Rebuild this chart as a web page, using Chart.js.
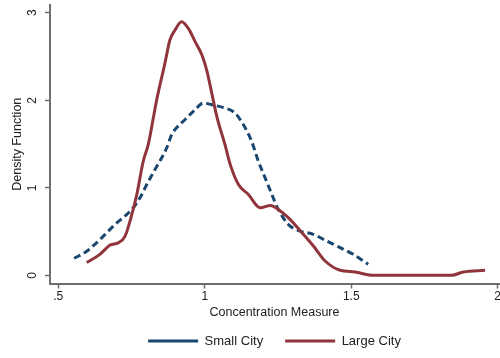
<!DOCTYPE html>
<html lang="en">
<head>
    <meta charset="UTF-8">
    <title>Density Function</title>
    <script src="https://cdn.jsdelivr.net/npm/chart.js"></script>
    <style>
        body { margin: 0; background: #ffffff; }
        .graph { width: 500px; height: 358px; }
    </style>
</head>
<body>
<div class="graph">
    <canvas id="myChart"></canvas>
</div>
<script>
    // Small City (dashed)
    const smallX = [0.554, 0.591, 0.625, 0.654, 0.694, 0.734, 0.756, 0.779, 0.802, 0.830, 0.870, 0.887, 0.898, 0.932, 0.967, 0.995, 1.024, 1.069, 1.103, 1.132, 1.160, 1.183, 1.206, 1.229, 1.251, 1.285, 1.325, 1.371, 1.416, 1.462, 1.507, 1.558];
    const smallY = [0.197, 0.262, 0.356, 0.450, 0.584, 0.697, 0.774, 0.887, 1.039, 1.209, 1.456, 1.608, 1.664, 1.778, 1.892, 1.968, 1.949, 1.911, 1.855, 1.721, 1.532, 1.304, 1.115, 0.925, 0.754, 0.584, 0.508, 0.470, 0.394, 0.319, 0.242, 0.129];

    // Large City (solid)
    const largeX = [0.597, 0.642, 0.677, 0.705, 0.728, 0.751, 0.768, 0.790, 0.807, 0.836, 0.864, 0.881, 0.898, 0.921, 0.944, 0.967, 0.990, 1.007, 1.024, 1.041, 1.069, 1.087, 1.115, 1.149, 1.189, 1.224, 1.251, 1.285, 1.325, 1.371, 1.411, 1.462, 1.513, 1.570, 1.700, 1.843, 1.883, 1.957];
    const largeY = [0.148, 0.242, 0.348, 0.375, 0.450, 0.697, 0.925, 1.304, 1.494, 2.006, 2.423, 2.688, 2.800, 2.897, 2.820, 2.670, 2.520, 2.340, 2.080, 1.816, 1.494, 1.266, 1.039, 0.925, 0.774, 0.800, 0.754, 0.660, 0.515, 0.337, 0.166, 0.060, 0.041, 0.003, 0.003, 0.003, 0.041, 0.060];

    const xTicks = [0.5, 1, 1.5, 2];
    const xTickLabels = ['.5', '1', '1.5', '2'];
    const yTicks = [0, 1, 2, 3];
    const yTickLabels = ['0', '1', '2', '3'];

    const cinza = '#6e6e6e';
    const texto = '#222222';

    function pontos(xs, ys) {
        return xs.map((x, i) => ({ x: x, y: ys[i] }));
    }

    const ctx = document.getElementById('myChart').getContext('2d');

    const myChart = new Chart(ctx, {
        type: 'line',
        data: {
            datasets: [{
                label: 'Small City',
                data: pontos(smallX, smallY),
                borderColor: '#1a476f',
                backgroundColor: '#1a476f',
                borderWidth: 3,
                borderDash: [7, 4],
                pointRadius: 0,
                cubicInterpolationMode: 'monotone',
                order: 1
            }, {
                label: 'Large City',
                data: pontos(largeX, largeY),
                borderColor: '#90353b',
                backgroundColor: '#90353b',
                borderWidth: 3,
                pointRadius: 0,
                cubicInterpolationMode: 'monotone',
                order: 0
            }]
        },
        options: {
            responsive: true,
            maintainAspectRatio: false,
            animation: false,
            layout: {
                padding: { top: 5, left: 0, right: 1, bottom: 0.5 }
            },
            plugins: {
                tooltip: { enabled: false },
                legend: {
                    position: 'bottom',
                    fullSize: false,
                    labels: {
                        usePointStyle: true,
                        pointStyle: 'line',
                        pointStyleWidth: 50,
                        padding: 22,
                        color: texto,
                        font: { family: 'Liberation Sans, Arial, sans-serif', size: 13 },
                        sort: (a, b) => a.datasetIndex - b.datasetIndex
                    }
                }
            },
            scales: {
                x: {
                    type: 'linear',
                    min: 0.4717,
                    max: 2.0044,
                    afterBuildTicks: (scale) => { scale.ticks = xTicks.map(v => ({ value: v })); },
                    afterFit: (scale) => { scale.paddingLeft = 0; scale.paddingRight = 0; },
                    border: { display: true, color: cinza, width: 2 },
                    grid: { display: true, drawOnChartArea: false, drawTicks: true, tickLength: 5, tickWidth: 1.5, tickColor: cinza },
                    ticks: {
                        padding: 1,
                        color: texto,
                        maxRotation: 0,
                        font: { family: 'Liberation Sans, Arial, sans-serif', size: 12 },
                        callback: (valor) => xTickLabels[xTicks.indexOf(valor)]
                    },
                    title: {
                        display: true,
                        text: 'Concentration Measure',
                        color: texto,
                        padding: { top: 0.5, bottom: -7.9 },
                        font: { family: 'Liberation Sans, Arial, sans-serif', size: 12.5 }
                    }
                },
                y: {
                    type: 'linear',
                    min: -0.091,
                    max: 3.0876,
                    afterBuildTicks: (scale) => { scale.ticks = yTicks.map(v => ({ value: v })); },
                    afterFit: (scale) => { scale.width = 50; scale.paddingTop = 0; scale.paddingBottom = 0; },
                    border: { display: true, color: cinza, width: 2 },
                    grid: { display: true, drawOnChartArea: false, drawTicks: true, tickLength: 5, tickWidth: 1.5, tickColor: cinza },
                    ticks: {
                        padding: 8.7,
                        minRotation: 90,
                        maxRotation: 90,
                        crossAlign: 'center',
                        color: texto,
                        font: { family: 'Liberation Sans, Arial, sans-serif', size: 12 },
                        callback: (valor) => yTickLabels[yTicks.indexOf(valor)]
                    },
                    title: {
                        display: true,
                        text: 'Density Function',
                        color: texto,
                        padding: { top: 10.5, bottom: 0 },
                        font: { family: 'Liberation Sans, Arial, sans-serif', size: 12.5 }
                    }
                }
            }
        }
    });
</script>
</body>
</html>
